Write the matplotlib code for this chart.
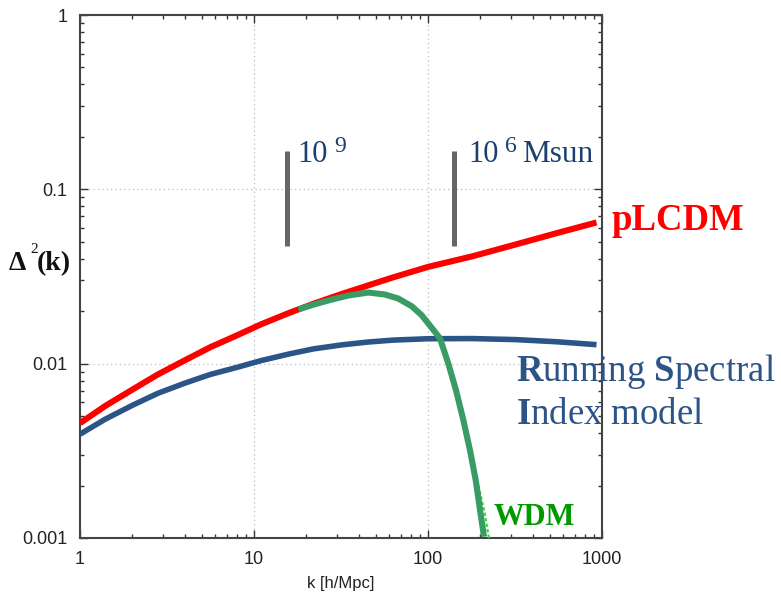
import matplotlib
matplotlib.use("Agg")
import matplotlib.pyplot as plt
from matplotlib.ticker import LogLocator, NullFormatter, FixedLocator, FixedFormatter

# ---- data -------------------------------------------------------------
k_grid = [1.0, 1.4, 2.0, 2.8, 4.0, 5.6, 8.0, 11.0, 16.0, 22.0, 32.0, 45.0,
          63.0, 100.0, 180.0, 320.0, 560.0, 930.0]

# power-law LCDM
d_lcdm = [0.00456, 0.00573, 0.00710, 0.00867, 0.01045, 0.01242, 0.01455,
          0.01683, 0.01959, 0.02208, 0.02512, 0.02805, 0.03126, 0.03589,
          0.04130, 0.04831, 0.05636, 0.06457]

# running spectral index model
d_rsi = [0.00394, 0.00481, 0.00577, 0.00676, 0.00773, 0.00867, 0.00953,
         0.01042, 0.01138, 0.01216, 0.01282, 0.01330, 0.01365, 0.01390,
         0.01393, 0.01374, 0.01334, 0.01285]

# warm dark matter
k_wdm = [17.97, 22.42, 27.97, 34.83, 45.39, 56.61, 67.50, 80.59, 92.0,
         109.7, 117.2, 130.8, 144.8, 159.6, 174.3, 188.0, 199.1, 209.8]
d_wdm = [0.02050, 0.02193, 0.02332, 0.02459, 0.02559, 0.02492, 0.02363,
         0.02136, 0.01896, 0.01521, 0.01395, 0.01003, 0.00705, 0.00475,
         0.00319, 0.00215, 0.001447, 0.001017]

# thin WDM curve tail visible beyond the thick one
k_wdm_tail = [195.0, 211.0, 224.0]
d_wdm_tail = [0.0020, 0.00141, 0.0010]

# halo-mass scale markers
mass_k = [15.4, 141.6]
mass_lo = 0.0473
mass_hi = 0.167

x_ticks = [1, 10, 100, 1000]
x_ticklabels = ["1", "10", "100", "1000"]
y_ticks = [0.001, 0.01, 0.1, 1]
y_ticklabels = ["0.001", "0.01", "0.1", "1"]

# ---- figure -----------------------------------------------------------
W, H = 781, 596
fig = plt.figure(figsize=(W / 100, H / 100), dpi=100)
ax = fig.add_axes([80 / W, 58 / H, 522 / W, 523 / H])
ax.set_xscale("log")
ax.set_yscale("log")
ax.set_xlim(1, 1000)
ax.set_ylim(0.001, 1)

red = "#ff0000"
navy = "#2b5586"
green = "#389c64"

ax.plot(k_grid, d_lcdm, color=red, lw=4.4, solid_capstyle="butt",
        solid_joinstyle="round", zorder=4)
ax.plot(k_grid, d_rsi, color=navy, lw=4.0, solid_capstyle="butt",
        solid_joinstyle="round", zorder=4)
ax.plot(k_wdm_tail, d_wdm_tail, color="#33dd33", lw=1.6,
        linestyle=(0, (1.5, 1.0)), zorder=3)
ax.plot(k_wdm, d_wdm, color=green, lw=4.4, solid_capstyle="butt",
        solid_joinstyle="round", zorder=5)

for km in mass_k:
    ax.plot([km, km], [mass_lo, mass_hi], color="#666666", lw=3.6,
            solid_capstyle="butt", zorder=3)

# grid at interior decades only
for xv in x_ticks[1:-1]:
    ax.axvline(xv, color="#bbbbbb", lw=0.9, linestyle=(0, (1, 2.5)), zorder=1)
for yv in y_ticks[1:-1]:
    ax.axhline(yv, color="#bbbbbb", lw=0.9, linestyle=(0, (1, 2.5)), zorder=1)

# ticks on all four sides, pointing inward
ax.xaxis.set_major_locator(FixedLocator(x_ticks))
ax.xaxis.set_major_formatter(FixedFormatter(x_ticklabels))
ax.yaxis.set_major_locator(FixedLocator(y_ticks))
ax.yaxis.set_major_formatter(FixedFormatter(y_ticklabels))
ax.xaxis.set_minor_locator(LogLocator(base=10, subs=range(2, 10)))
ax.yaxis.set_minor_locator(LogLocator(base=10, subs=range(2, 10)))
ax.xaxis.set_minor_formatter(NullFormatter())
ax.yaxis.set_minor_formatter(NullFormatter())
ax.tick_params(which="both", direction="in", top=True, right=True,
               color="#333333", width=1.0)
ax.tick_params(which="major", length=6, pad=9)
ax.tick_params(which="minor", length=3)
for lab in ax.get_xticklabels() + ax.get_yticklabels():
    lab.set_fontfamily("Liberation Sans")
    lab.set_fontsize(13)
    lab.set_color("#222222")

for sp in ax.spines.values():
    sp.set_color("#444444")
    sp.set_linewidth(1.5)

ax.set_xlabel("k [h/Mpc]", fontfamily="Liberation Sans", fontsize=12,
              color="#222222", labelpad=6)

# ---- annotations -------------------------------------------------------
def px(x, y):
    return x / W, 1 - y / H

serif = "Liberation Serif"
plt.rcParams["mathtext.fontset"] = "custom"
plt.rcParams["mathtext.rm"] = serif
plt.rcParams["mathtext.bf"] = serif + ":bold"

# y-axis label
fig.text(*px(9, 270), "Δ", fontfamily=serif, fontweight="bold",
         fontsize=20, color="#111111", va="baseline", ha="left")
fig.text(*px(30, 253), "2", fontfamily=serif, fontsize=11,
         color="#111111", va="baseline", ha="left")
fig.text(*px(37, 270), "(k)", fontfamily=serif, fontweight="bold",
         fontsize=20, color="#111111", va="baseline", ha="left")

# mass-scale labels
mass_col = "#1a3f70"
fig.text(*px(297, 162), "10", fontfamily=serif, fontsize=22,
         color=mass_col, va="baseline", ha="left")
fig.text(*px(334, 152), "9", fontfamily=serif, fontsize=17,
         color=mass_col, va="baseline", ha="left")
fig.text(*px(468, 162), "10", fontfamily=serif, fontsize=22,
         color=mass_col, va="baseline", ha="left")
fig.text(*px(505, 152), "6", fontfamily=serif, fontsize=17,
         color=mass_col, va="baseline", ha="left")
fig.text(*px(522, 162), "Msun", fontfamily=serif, fontsize=22.5,
         color=mass_col, va="baseline", ha="left")

# curve labels
fig.text(*px(611, 230), "pLCDM", fontfamily=serif, fontweight="bold",
         fontsize=26.5, color=red, va="baseline", ha="left")
fig.text(*px(494, 525), "WDM", fontfamily=serif, fontweight="bold",
         fontsize=22, color="#009900", va="baseline", ha="left")
rsi_col = "#2c5487"
fig.text(*px(516, 381), r"$\mathbf{R}$unning $\mathbf{S}$pectral",
         fontfamily=serif, fontsize=26.5, color=rsi_col,
         va="baseline", ha="left")
fig.text(*px(516, 424), r"$\mathbf{I}$ndex model",
         fontfamily=serif, fontsize=26.5, color=rsi_col,
         va="baseline", ha="left")

fig.savefig("out.png", dpi=100)
